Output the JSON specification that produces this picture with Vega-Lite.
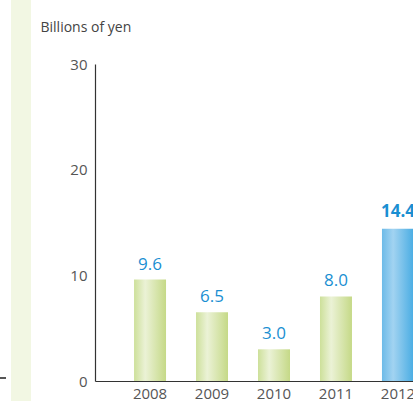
{
  "$schema": "https://vega.github.io/schema/vega-lite/v6.json",
  "width": 318,
  "height": 317,
  "autosize": {"type": "none"},
  "padding": {"left": 95, "top": 64, "right": 0, "bottom": 20},
  "background": "white",
  "config": {
    "view": {"stroke": null},
    "font": "Open Sans"
  },
  "data": {
    "values": [
      {"year": 2008, "value": 9.6},
      {"year": 2009, "value": 6.5},
      {"year": 2010, "value": 3.0},
      {"year": 2011, "value": 8.0},
      {"year": 2012, "value": 14.4}
    ]
  },
  "layer": [
    {
      "encoding": {
        "x": {
          "field": "year",
          "type": "ordinal",
          "scale": {"range": [0, 358], "paddingInner": 0.484, "paddingOuter": 0.63},
          "axis": {
            "orient": "bottom",
            "title": null,
            "labelAngle": 0,
            "ticks": false,
            "domainColor": "#333333",
            "domainWidth": 1.2,
            "labelColor": "#555555",
            "labelFontSize": 15,
            "labelPadding": 5
          }
        },
        "y": {
          "field": "value",
          "type": "quantitative",
          "scale": {"domain": [0, 30], "nice": false},
          "axis": {
            "orient": "left",
            "values": [0, 10, 20, 30],
            "grid": false,
            "ticks": false,
            "domainColor": "#333333",
            "domainWidth": 1.2,
            "labelColor": "#555555",
            "labelFontSize": 15,
            "labelPadding": 8,
            "title": "Billions of yen",
            "titleAngle": 0,
            "titleAlign": "left",
            "titleBaseline": "alphabetic",
            "titleX": -55,
            "titleY": -33,
            "titleFontWeight": "normal",
            "titleFontSize": 14,
            "titleColor": "#444444"
          }
        }
      },
      "layer": [
        {
          "transform": [{"filter": "datum.year != 2012"}],
          "mark": {
            "type": "bar",
            "fill": {
              "gradient": "linear",
              "x1": 0, "x2": 1, "y1": 0, "y2": 0,
              "stops": [
                {"offset": 0, "color": "#cde09a"},
                {"offset": 0.35, "color": "#ebf2d6"},
                {"offset": 1, "color": "#c5d987"}
              ]
            }
          }
        },
        {
          "transform": [{"filter": "datum.year == 2012"}],
          "mark": {
            "type": "bar",
            "fill": {
              "gradient": "linear",
              "x1": 0, "x2": 1, "y1": 0, "y2": 0,
              "stops": [
                {"offset": 0, "color": "#6dbbe8"},
                {"offset": 0.35, "color": "#a2d3f1"},
                {"offset": 1, "color": "#48ace3"}
              ]
            }
          }
        },
        {
          "transform": [{"filter": "datum.year != 2012"}],
          "mark": {"type": "text", "dy": -10, "baseline": "alphabetic", "fontSize": 17, "color": "#1a8fd2"},
          "encoding": {"text": {"field": "value", "type": "quantitative", "format": ".1f"}}
        },
        {
          "transform": [{"filter": "datum.year == 2012"}],
          "mark": {"type": "text", "dy": -12, "baseline": "alphabetic", "fontSize": 17, "fontWeight": "bold", "color": "#1a8fd2"},
          "encoding": {"text": {"field": "value", "type": "quantitative", "format": ".1f"}}
        }
      ]
    },
    {
      "layer": [
        {
          "mark": {"type": "rect", "color": "#f2f7e3"},
          "encoding": {
            "x": {"datum": 11, "type": "quantitative", "scale": {"domain": [0, 413], "range": [-95, 318], "nice": false, "zero": false}, "axis": null},
            "x2": {"datum": 31},
            "y": {"datum": 0, "type": "quantitative", "scale": {"domain": [0, 401], "range": [-64, 337], "nice": false, "zero": false}, "axis": null},
            "y2": {"datum": 401}
          }
        },
        {
          "mark": {"type": "rule", "color": "#555555", "strokeWidth": 1.2},
          "encoding": {
            "x": {"datum": 0, "type": "quantitative"},
            "x2": {"datum": 6},
            "y": {"datum": 378, "type": "quantitative"}
          }
        }
      ]
    }
  ],
  "resolve": {"scale": {"x": "independent", "y": "independent"}}
}
